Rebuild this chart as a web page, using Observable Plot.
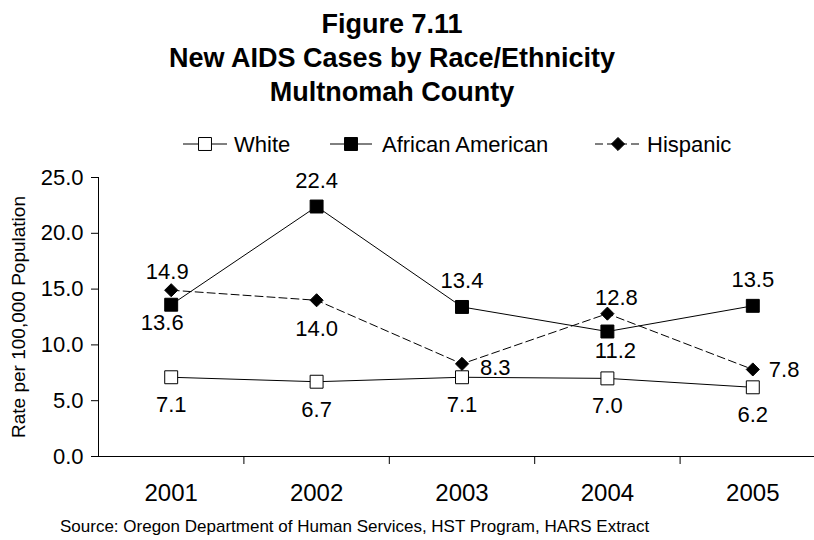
<!DOCTYPE html>
<html>
<head>
<meta charset="utf-8">
<script src="https://cdn.jsdelivr.net/npm/d3@7"></script>
<script src="https://cdn.jsdelivr.net/npm/@observablehq/plot@0.6"></script>
<style>
  body { margin: 0; background: #fff; overflow: hidden; font-family: "Liberation Sans", Arial, sans-serif; }
  #wrap { position: relative; width: 814px; height: 540px; background: #fff; }
  #chart { position: absolute; left: 0; top: 160px; }
  #overlay { position: absolute; left: 0; top: 0; }
</style>
</head>
<body>
<div id="wrap">
  <div id="chart"></div>
  <svg id="overlay" width="814" height="540"></svg>
</div>
<script>
// Rates of new AIDS cases per 100,000 population, Multnomah County
const years = [2001, 2002, 2003, 2004, 2005];
const white = [7.1, 6.7, 7.1, 7.0, 6.2];
const africanAmerican = [13.6, 22.4, 13.4, 11.2, 13.5];
const hispanic = [14.9, 14.0, 8.3, 12.8, 7.8];
const seriesNames = ["White", "African American", "Hispanic"];
const yTicks = [0, 5, 10, 15, 20, 25];

const titleLines = ["Figure 7.11", "New AIDS Cases by Race/Ethnicity", "Multnomah County"];
const yLabel = "Rate per 100,000 Population";
const sourceNote = "Source: Oregon Department of Human Services, HST Program, HARS Extract";

// Where each value label sits relative to its marker: [dx, dy, textAnchor]
const whitePlacement = [[0, 28], [0, 28], [0, 28], [0, 28], [0, 28]];
const africanAmericanPlacement = [[-9, 18], [0, -26], [0, -26], [8, 19], [0, -26]];
const hispanicPlacement = [[-4, -18], [0, 29], [18, 4, "start"], [9, -16], [16, 1, "start"]];

const seriesStyle = {
  "White": { symbol: "square", r: 7.3, fill: "white", dash: null },
  "African American": { symbol: "square", r: 7.3, fill: "black", dash: null },
  "Hispanic": { symbol: "diamond2", r: 5.9, fill: "black", dash: "8,4" }
};

const seriesValues = [white, africanAmerican, hispanic];
const seriesPlacement = [whitePlacement, africanAmericanPlacement, hispanicPlacement];

const rows = seriesNames.flatMap((name, i) =>
  seriesValues[i].map((value, j) => ({
    series: name,
    year: years[j],
    value,
    place: seriesPlacement[i][j]
  }))
);

// category boundaries between years, where the x-axis ticks go
const boundaries = years.slice(0, -1).map(y => y + 0.5);

const marks = [
  Plot.ruleY([0], { stroke: "black", strokeWidth: 1 }),
  Plot.ruleX([years[0] - 0.5], { y1: 0, y2: 25, stroke: "black", strokeWidth: 1 }),
  Plot.axisY({ ticks: yTicks, tickSize: 7, tickPadding: 8, tickFormat: d => d.toFixed(1), fontSize: 22, label: null }),
  Plot.axisX({ ticks: boundaries, tickSize: 8, tickFormat: () => "", label: null }),
  Plot.axisX({ ticks: years, tickSize: 0, tickPadding: 27, tickFormat: d => String(d), fontSize: 24, label: null }),
  Plot.text([yLabel], { frameAnchor: "left", textAnchor: "middle", dx: -80, rotate: -90, fontSize: 19, text: d => d })
];

for (const name of seriesNames) {
  const s = seriesStyle[name];
  const data = rows.filter(d => d.series === name);
  marks.push(Plot.line(data, {
    x: "year", y: "value", stroke: "black", strokeWidth: 1,
    strokeDasharray: s.dash ?? undefined
  }));
}
for (const name of seriesNames) {
  const s = seriesStyle[name];
  const data = rows.filter(d => d.series === name);
  marks.push(Plot.dot(data, {
    x: "year", y: "value", symbol: s.symbol, r: s.r,
    fill: s.fill, stroke: "black", strokeWidth: 1
  }));
}
for (const d of rows) {
  const [dx, dy, anchor] = d.place;
  marks.push(Plot.text([d], {
    x: "year", y: "value", text: r => r.value.toFixed(1),
    dx, dy, textAnchor: anchor ?? "middle", lineAnchor: "middle",
    fontSize: 22, fill: "black"
  }));
}

const chart = Plot.plot({
  width: 814,
  height: 345,
  marginTop: 17,
  marginBottom: 49,
  marginLeft: 98,
  marginRight: 0,
  x: { type: "linear", domain: [years[0] - 0.5, years[years.length - 1] + 0.5], range: [98, 825] },
  y: { domain: [0, 25], range: [296, 17] },
  style: { fontFamily: "'Liberation Sans', Arial, sans-serif", color: "black", background: "white", overflow: "hidden" },
  marks
});
document.getElementById("chart").append(chart);

// Title, legend and source note
const svg = d3.select("#overlay");
const font = "'Liberation Sans', Arial, sans-serif";

svg.append("g")
  .selectAll("text")
  .data(titleLines)
  .join("text")
  .attr("x", 392)
  .attr("y", (d, i) => 33 + i * 34)
  .attr("text-anchor", "middle")
  .attr("font-family", font)
  .attr("font-weight", "bold")
  .attr("font-size", 27)
  .text(d => d);

const legendItems = [
  { name: "White", x0: 183, x1: 227, cx: 205, tx: 234 },
  { name: "African American", x0: 330, x1: 372, cx: 351, tx: 382 },
  { name: "Hispanic", x0: 595, x1: 642, cx: 618, tx: 647 }
];
const symbolFor = { square: d3.symbolSquare, diamond2: d3.symbolDiamond2 };
const ly = 144;
const legend = svg.append("g");
for (const item of legendItems) {
  const s = seriesStyle[item.name];
  const g = legend.append("g");
  g.append("line")
    .attr("x1", item.x0).attr("x2", item.x1)
    .attr("y1", ly).attr("y2", ly)
    .attr("stroke", "black").attr("stroke-width", 1)
    .attr("stroke-dasharray", s.dash);
  g.append("path")
    .attr("d", d3.symbol(symbolFor[s.symbol], s.r * s.r * Math.PI)())
    .attr("transform", `translate(${item.cx},${ly})`)
    .attr("fill", s.fill).attr("stroke", "black").attr("stroke-width", 1);
  g.append("text")
    .attr("x", item.tx).attr("y", 151.5)
    .attr("font-family", font).attr("font-size", 22)
    .text(item.name);
}

svg.append("text")
  .attr("x", 60).attr("y", 532)
  .attr("font-family", font).attr("font-size", 17)
  .text(sourceNote);
</script>
</body>
</html>
